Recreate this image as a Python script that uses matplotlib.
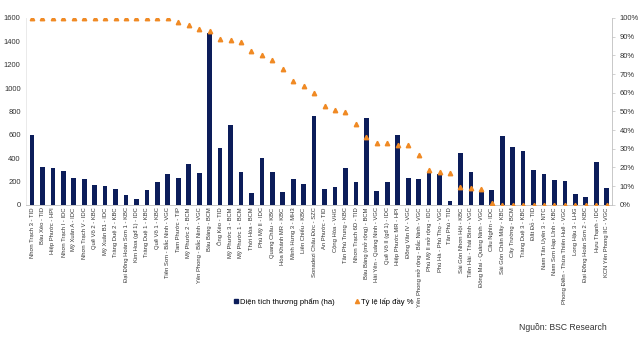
"""Dien tich thuong pham va ty le lap day cac KCN (BSC Research)."""

import matplotlib

matplotlib.use("Agg")
import matplotlib.pyplot as plt
from matplotlib.lines import Line2D
from matplotlib.ticker import PercentFormatter

plt.rcParams["font.family"] = ["Liberation Sans", "DejaVu Sans"]

khu_cong_nghiep = [
    "Nhơn Trạch 3 - TID", "Bàu Xéo - TID", "Hiệp Phước - HPI", "Nhơn Trạch I - IDC",
    "Mỹ Xuân A - IDC", "Nhơn Trạch V - IDC", "Quế Võ 2 - KBC", "Mỹ Xuân B1 - IDC",
    "Tràng Duệ 2 - KBC", "Đại Đồng Hoàn Sơn 1 - KBC", "Kim Hoa (gđ 1) - IDC", "Tràng Duệ 1 - KBC",
    "Quế Võ 1 - KBC", "Tiên Sơn - Bắc Ninh - VGC", "Tam Phước - TIP", "Mỹ Phước 2 - BCM",
    "Yên Phong - Bắc Ninh - VGC", "Bàu Bàng - BCM", "Ông Kèo - TID", "Mỹ Phước 3 - BCM",
    "Mỹ Phước 1 - BCM", "Thới Hòa - BCM", "Phú Mỹ II - IDC", "Quang Châu - KBC",
    "Hòa Khánh MR - KBC", "Minh Hưng 3 - MH3", "Liên Chiểu - KBC", "Sonadezi Châu Đức - SZC",
    "An Phước - TID", "Cộng Hòa - VHG", "Tân Phú Trung - KBC", "Nhơn Trạch 6D - TID",
    "Bàu Bàng (mở rộng) - BCM", "Hải Yên - Quảng Ninh - VGC", "Quế Võ II (gđ 1) - IDC",
    "Hiệp Phước MR - HPI", "Đồng Văn IV - VGC", "Yên Phong mở rộng - Bắc Ninh - VGC",
    "Phú Mỹ II mở rộng - IDC", "Phú Hà - Phú Thọ - VGC", "Tân Phú - TID",
    "Sài Gòn Nhơn Hội - KBC", "Tiền Hải - Thái Bình - VGC", "Đông Mai - Quảng Ninh - VGC",
    "Cầu Nghìn - IDC", "Sài Gòn Chân Mây - KBC", "Cây Trường - BCM", "Tràng Duệ 3 - KBC",
    "Đất Đỏ - TID", "Nam Tân Uyên 3 - NTC", "Nam Sơn Hạp Lĩnh - KBC",
    "Phong Điền - Thừa Thiên Huế - VGC", "Long Hậu 3 - LHG", "Đại Đồng Hoàn Sơn 2 - KBC",
    "Hựu Thạnh - IDC", "KCN Yên Phong IIC - VGC",
]

dien_tich_ha = [
    595, 320, 312, 286, 229, 220, 171, 160, 135, 80, 46, 129, 192, 260,
    229, 346, 272, 1471, 488, 680, 277, 98, 398, 277, 109, 217, 177, 760,
    137, 149, 317, 197, 746, 120, 192, 600, 229, 217, 269, 260, 34, 446,
    277, 111, 126, 589, 494, 457, 300, 260, 214, 206, 89, 63, 363, 140,
]

ty_le_lap_day = [
    100, 100, 100, 100, 100, 100, 100, 100, 100, 100, 100, 100, 100, 100,
    98, 96, 94, 93, 89, 88, 87, 82.5, 80, 77.5, 72.5, 66.5, 63.5, 60,
    53, 50.5, 49.5, 43, 36.5, 33, 33, 32, 32, 26.5, 18.5, 17.5, 17, 9.5,
    9, 8.5, 1, 0, 0, 0, 0, 0, 0, 0, 0, 0, 0, 0,
]

mau_cot = "#0c1d5a"
mau_tam_giac = "#f08a24"
mau_truc = "#bfbfbf"

fig = plt.figure(figsize=(6.4, 3.37), dpi=100)
ax = fig.add_axes([0.041, 0.3926, 0.916, 0.554])

x = list(range(len(khu_cong_nghiep)))
ax.bar(x, dien_tich_ha, width=0.45, color=mau_cot, zorder=2)
ax.set_xlim(-0.55, len(x) - 0.45)
ax.set_ylim(0, 1600)
ax.set_yticks(range(0, 1601, 200))
ax.set_xticks(x)
ax.set_xticklabels(khu_cong_nghiep, rotation=90, fontsize=4.2, color="#333333")
ax.tick_params(axis="y", labelsize=5.5, length=0, pad=4, colors="#333333")
ax.tick_params(axis="x", length=0, pad=2)
for seite in ["top", "right"]:
    ax.spines[seite].set_visible(False)
ax.spines["left"].set_color("#e6e6e6")
ax.spines["bottom"].set_color(mau_truc)
ax.spines["left"].set_linewidth(0.6)
ax.spines["bottom"].set_linewidth(0.6)

ax2 = ax.twinx()
ax2.plot(x, [v / 100 for v in ty_le_lap_day], linestyle="none", marker="^",
         markersize=3.2, color=mau_tam_giac, zorder=3)
ax2.set_ylim(0, 1)
ax2.set_yticks([i / 10 for i in range(11)])
ax2.yaxis.set_major_formatter(PercentFormatter(1.0, decimals=0))
ax2.tick_params(axis="y", labelsize=5.5, length=2, width=0.5, color=mau_truc,
                pad=3, colors="#333333")
ax2.tick_params(axis="y", color=mau_truc)
for seite in ["top", "left", "bottom"]:
    ax2.spines[seite].set_visible(False)
ax2.spines["right"].set_color(mau_truc)
ax2.spines["right"].set_linewidth(0.6)

handles = [
    Line2D([], [], linestyle="none", marker="s", markersize=3.5, color=mau_cot),
    Line2D([], [], linestyle="none", marker="^", markersize=3, color=mau_tam_giac),
]
fig.legend(handles, ["Diện tích thương phẩm (ha)", "Tỷ lệ lấp đầy %"], loc="center",
           bbox_to_anchor=(0.505, 0.104), ncol=2, frameon=False, fontsize=5.5,
           handletextpad=0.2, columnspacing=2.5, handlelength=0.8)

fig.text(0.948, 0.027, "Nguồn: BSC Research", ha="right", va="center",
         fontsize=6.2, color="#333333")

fig.savefig("out.png", dpi=100)
